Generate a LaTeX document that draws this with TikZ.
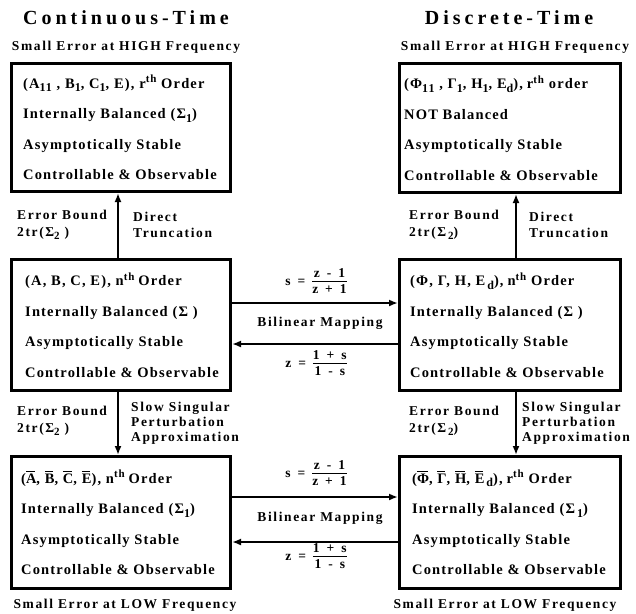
\documentclass[tikz,border=0pt]{standalone}
\usepackage{fontspec}
\setmainfont{Liberation Serif}
\newfontfamily\titlefont[LetterSpace=20]{Liberation Serif}
\newfontfamily\boxfont[LetterSpace=8]{Liberation Serif}
\newfontfamily\labfont[LetterSpace=12]{Liberation Serif}
\usetikzlibrary{arrows.meta}
\newcommand\ovl[1]{\setbox0\hbox{#1}\rlap{\raisebox{\dimexpr\ht0+1.6pt\relax}{\rule{\dimexpr\wd0-1.5pt\relax}{0.9pt}}}\box0}
\newcommand\sbs[1]{\raisebox{-0.55ex}{\fontsize{12}{12}\selectfont #1}}
\newcommand\lsbs[1]{\raisebox{-0.5ex}{\fontsize{11}{11}\selectfont #1}}
\newcommand\sps[1]{\raisebox{0.8ex}{\fontsize{11}{11}\selectfont #1}}
\newcommand\fsp{\hspace{4pt}}
\newcommand\wsp{\hspace{7pt}}
\newcommand\myfr[2]{$\vcenter{\offinterlineskip\halign{\hfil##\hfil\cr\strut #1\cr\noalign{\kern-1.5pt\hrule height 1.3pt\kern0pt}\strut #2\cr}}$}
\begin{document}
\begin{tikzpicture}[x=1pt,y=-1pt,
  sysbox/.style={draw, line width=2.6pt, inner sep=0pt},
  boxtxt/.style={anchor=west, inner sep=0pt, align=left, font=\boxfont\bfseries\fontsize{14.5}{30.5}\selectfont},
  lab/.style={inner sep=0pt, align=left, font=\labfont\bfseries\fontsize{13.5}{16.5}\selectfont},
  ttl/.style={inner sep=0pt, font=\titlefont\bfseries\fontsize{20}{24}\selectfont},
  arr/.style={line width=2.6pt, -{Latex[length=9pt,width=7pt]}}]
\useasboundingbox (0,0) rectangle (636,613);

% titles
\node[ttl] (t1) at (126,18) {Continuous-Time};
\node[ttl] (t2) at (509,18) {Discrete-Time};
\node[lab] (h1) at (126,47) {Small Error at HIGH Frequency};
\node[lab] (h2) at (515,47) {Small Error at HIGH Frequency};
\node[lab] (l1) at (125,605) {Small Error at LOW Frequency};
\node[lab] (l2) at (505,605) {Small Error at LOW Frequency};

% boxes
\node[sysbox, minimum width=219.4pt, minimum height=128.4pt] (lt) at (121,127.5) {};
\node[sysbox, minimum width=221.4pt, minimum height=129.4pt] (rt) at (510,128) {};
\node[sysbox, minimum width=219.4pt, minimum height=131.4pt] (lm) at (121,325) {};
\node[sysbox, minimum width=221.4pt, minimum height=131.4pt] (rm) at (510,325) {};
\node[sysbox, minimum width=219.4pt, minimum height=132.4pt] (lb) at (121,522.5) {};
\node[sysbox, minimum width=221.4pt, minimum height=132.4pt] (rb) at (510,522.5) {};

% box texts
\node[boxtxt] (ltT) at ([xshift=13pt]lt.west) {(A\sbs{11} , B\sbs{1}, C\sbs{1}, E), r\sps{th} Order\\Internally Balanced (Σ\sbs{1})\\Asymptotically Stable\\Controllable \& Observable};
\node[boxtxt] (rtT) at ([xshift=6pt]rt.west) {(Φ\sbs{11} , Γ\sbs{1}, H\sbs{1}, E\sbs{d}),\fsp r\sps{th} order\\NOT Balanced\\Asymptotically Stable\\Controllable \& Observable};
\node[boxtxt] (lmT) at ([xshift=15pt]lm.west) {(A, B, C, E), n\sps{th}\fsp Order\\Internally Balanced (Σ )\\Asymptotically Stable\\Controllable \& Observable};
\node[boxtxt] (rmT) at ([xshift=12pt]rm.west) {(Φ, Γ, H, E\sbs{\,d}),\fsp n\sps{th} Order\\Internally Balanced (Σ )\\Asymptotically Stable\\Controllable \& Observable};
\node[boxtxt] (lbT) at ([xshift=11pt]lb.west) {(\ovl{A}, \ovl{B}, \ovl{C}, \ovl{E}), n\sps{th}\fsp Order\\Internally Balanced (Σ\sbs{1})\\Asymptotically Stable\\Controllable \& Observable};
\node[boxtxt] (rbT) at ([xshift=14pt]rb.west) {(\ovl{Φ}, \ovl{Γ}, \ovl{H}, \ovl{E}\sbs{\,d}),\fsp r\sps{th} Order\\Internally Balanced (Σ\sbs{\,1})\\Asymptotically Stable\\Controllable \& Observable};

% vertical arrows
\draw[arr] ([xshift=-3pt]lm.north) -- ([xshift=-3pt]lm.north |- lt.south);
\draw[arr] ([xshift=6pt]rm.north) -- ([xshift=6pt]rm.north |- rt.south);
\draw[arr] ([xshift=-3pt]lm.south) -- ([xshift=-3pt]lm.south |- lb.north);
\draw[arr] ([xshift=6pt]rm.south) -- ([xshift=6pt]rm.south |- rb.north);

% horizontal arrows
\draw[arr] ([yshift=22pt]lm.east) -- ([yshift=22pt]lm.east -| rm.west);
\draw[arr] ([yshift=-19pt]rm.west) -- ([yshift=-19pt]rm.west -| lm.east);
\draw[arr] ([yshift=25.5pt]lb.east) -- ([yshift=25.5pt]lb.east -| rb.west);
\draw[arr] ([yshift=-19.5pt]rb.west) -- ([yshift=-19.5pt]rb.west -| lb.east);

% arrow labels
\node[lab, anchor=west] (eb1) at (17,225) {Error Bound\\2tr(Σ\lsbs{2} )};
\node[lab, anchor=west] (dt1) at (133,225) {Direct\\Truncation};
\node[lab, anchor=west] (eb2) at (409,225) {Error Bound\\2tr(Σ\lsbs{\,2})};
\node[lab, anchor=west] (dt2) at (529,225) {Direct\\Truncation};
\node[lab, anchor=west] (eb3) at (17,421) {Error Bound\\2tr(Σ\lsbs{2} )};
\node[lab, anchor=west, font=\labfont\bfseries\fontsize{13.5}{15}\selectfont] (ss1) at (131,423) {Slow Singular\\Perturbation\\Approximation};
\node[lab, anchor=west] (eb4) at (409,421) {Error Bound\\2tr(Σ\lsbs{\,2})};
\node[lab, anchor=west, font=\labfont\bfseries\fontsize{13.5}{15}\selectfont] (ss2) at (522,423) {Slow Singular\\Perturbation\\Approximation};

% mapping labels
\node[lab] (f1) at (316,282) {s\wsp=\wsp\myfr{z\wsp-\wsp1}{z\wsp+\wsp1}};
\node[lab] (bm1) at (320,323) {Bilinear Mapping};
\node[lab] (g1) at (316,364) {z\wsp=\wsp\myfr{1\wsp+\wsp s}{1\wsp-\wsp s}};
\node[lab] (f2) at (316,474) {s\wsp=\wsp\myfr{z\wsp-\wsp1}{z\wsp+\wsp1}};
\node[lab] (bm2) at (320,518) {Bilinear Mapping};
\node[lab] (g2) at (316,557) {z\wsp=\wsp\myfr{1\wsp+\wsp s}{1\wsp-\wsp s}};
\end{tikzpicture}
\end{document}
